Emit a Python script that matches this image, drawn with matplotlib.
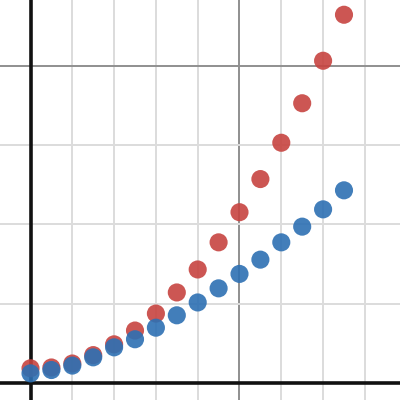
import matplotlib
matplotlib.use("Agg")
import matplotlib.pyplot as plt
from matplotlib.ticker import MultipleLocator

x_vals = [0, 0.5, 1, 1.5, 2, 2.5, 3, 3.5, 4, 4.5, 5, 5.5, 6, 6.5, 7, 7.5]
red_vals = [0.93, 0.98, 1.23, 1.76, 2.44, 3.31, 4.38, 5.71, 7.16, 8.87,
            10.77, 12.86, 15.15, 17.64, 20.32, 23.22]
blue_vals = [0.61, 0.82, 1.10, 1.62, 2.25, 2.76, 3.49, 4.27, 5.08, 5.97,
             6.88, 7.78, 8.87, 9.86, 10.95, 12.15]

fig = plt.figure(figsize=(4, 4), dpi=100)
ax = fig.add_axes([0, 0, 1, 1])
ax.set_xlim(-0.73, 8.84)
ax.set_ylim(-1.07, 24.15)

ax.xaxis.set_major_locator(MultipleLocator(5))
ax.xaxis.set_minor_locator(MultipleLocator(1))
ax.yaxis.set_major_locator(MultipleLocator(20))
ax.yaxis.set_minor_locator(MultipleLocator(5))
ax.grid(which='minor', color='#dcdcdc', linewidth=1.4, zorder=0)
ax.grid(which='major', color='#8f8f8f', linewidth=1.4, zorder=0.5)
ax.tick_params(which='both', length=0, labelbottom=False, labelleft=False)
for s in ax.spines.values():
    s.set_visible(False)
ax.set_axisbelow(True)

ax.axhline(0, color='#111111', linewidth=2.6, zorder=1)
ax.axvline(0, color='#111111', linewidth=2.6, zorder=1)

ax.scatter(x_vals, red_vals, s=170, color='#c74440', alpha=0.9,
           edgecolors='none', zorder=3)
ax.scatter(x_vals, blue_vals, s=170, color='#2d70b3', alpha=0.9,
           edgecolors='none', zorder=4)

fig.savefig("out.png", dpi=100)
